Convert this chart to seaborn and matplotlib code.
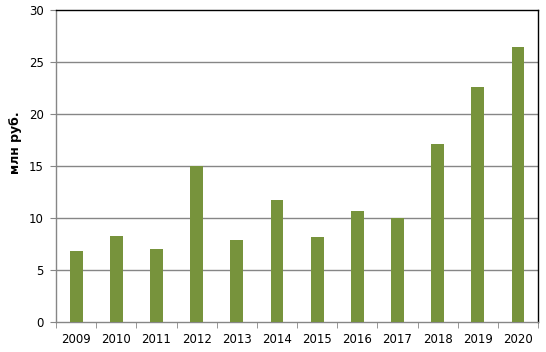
import numpy as np
import pandas as pd
import seaborn as sns
import matplotlib.pyplot as plt

years = ['2009', '2010', '2011', '2012', '2013', '2014',
         '2015', '2016', '2017', '2018', '2019', '2020']
values = [6.85, 8.3, 7.05, 15.0, 7.95, 11.75, 8.2, 10.7, 10.0, 17.15, 22.65, 26.45]
y_ticks = [0, 5, 10, 15, 20, 25, 30]

df = pd.DataFrame({'year': years, 'value': values})

sns.set_style('white')
plt.rcParams['font.family'] = ['DejaVu Sans']
plt.rcParams['text.color'] = 'black'
plt.rcParams['axes.labelcolor'] = 'black'
plt.rcParams['xtick.color'] = 'black'
plt.rcParams['ytick.color'] = 'black'

fig = plt.figure(figsize=(5.46, 3.52), dpi=100)
ax = fig.add_axes([0.1026, 0.0844, 0.8828, 0.8858])

sns.barplot(data=df, x='year', y='value', color='#77933C', saturation=1,
            width=0.32, linewidth=0, ax=ax, zorder=3)

ax.set_xlim(-0.5, len(years) - 0.5)
ax.set_ylim(0, 30)
ax.set_yticks(y_ticks)
for t in y_ticks[1:-1]:
    ax.axhline(t, color='#868686', lw=1, zorder=1)

ax.set_xlabel('')
ax.set_ylabel('млн руб.', fontsize=9, fontweight='bold')
ax.yaxis.set_label_coords(-0.07, 0.575)

ax.set_xticks(np.arange(-0.5, len(years)), minor=True)
ax.tick_params(axis='x', which='major', length=0, pad=8, labelsize=8.5)
ax.tick_params(axis='x', which='minor', length=4, color='#868686', direction='out', bottom=True)
ax.tick_params(axis='y', which='major', length=4, color='#868686', labelcolor='black',
               direction='out', left=True, pad=5, labelsize=8.5)

for side in ['left', 'bottom']:
    ax.spines[side].set_color('#868686')
for side in ['top', 'right']:
    ax.spines[side].set_color('black')
for s in ax.spines.values():
    s.set_linewidth(1)
    s.set_visible(True)

plt.savefig('out.png', dpi=100)
